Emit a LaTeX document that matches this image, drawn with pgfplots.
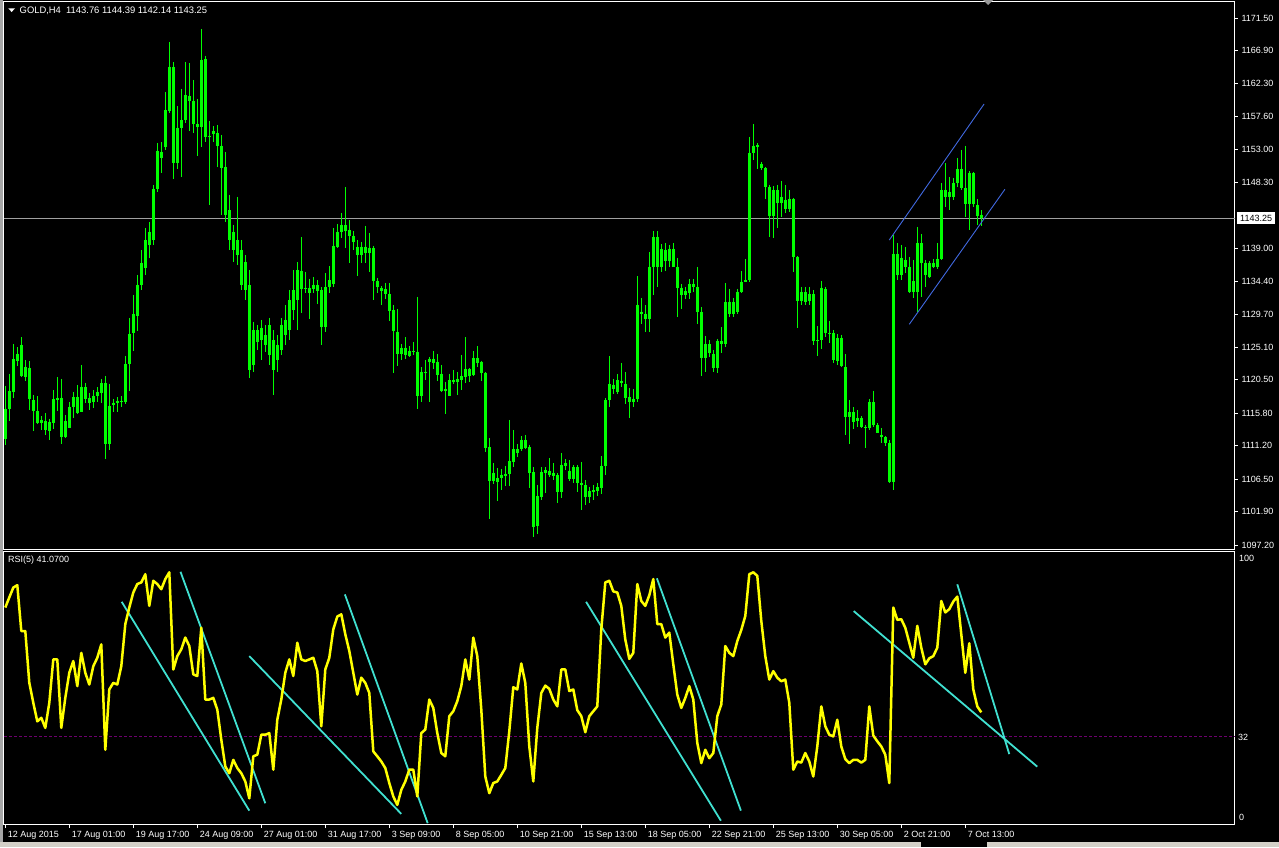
\documentclass[border=0pt]{standalone}
\usepackage{fontspec}
\setmainfont{Liberation Sans}
\usepackage{pgfplots}
\pgfplotsset{compat=1.18}
\usepackage{pgfplotstable}
\definecolor{candle}{RGB}{0,255,0}
\definecolor{rsicol}{RGB}{255,255,0}
\definecolor{trend}{RGB}{64,224,208}
\definecolor{chan}{RGB}{65,105,225}
\definecolor{bidcol}{RGB}{160,160,160}
\definecolor{lvl}{RGB}{110,0,110}
\definecolor{uicol}{RGB}{212,208,200}
\newcommand{\mtfont}{\fontsize{9}{10}\selectfont}
\newcommand{\titlefont}{\fontsize{9.4}{10}\selectfont}

\pgfplotstableread{
i lo hi bl bh
0 1111.31 1119.62 1112.15 1116.38
1 1114.69 1121.32 1116.38 1118.92
2 1117.93 1125.55 1118.78 1123.43
3 1122.44 1125.12 1123.15 1124.14
4 1120.89 1126.53 1121.03 1125.41
5 1120.33 1123.29 1120.89 1122.30
6 1116.24 1123.15 1117.79 1122.16
7 1113.28 1118.36 1116.10 1117.65
8 1114.27 1118.21 1114.41 1116.10
9 1113.42 1115.39 1114.41 1114.83
10 1112.72 1115.82 1113.42 1114.69
11 1112.01 1114.97 1113.28 1114.55
12 1113.56 1119.06 1114.41 1117.79
13 1116.10 1120.89 1117.65 1117.93
14 1111.45 1120.61 1112.43 1117.93
15 1112.29 1115.54 1112.43 1114.69
16 1113.70 1117.37 1113.70 1116.66
17 1115.11 1118.78 1116.66 1118.07
18 1115.68 1119.77 1115.82 1118.07
19 1115.96 1122.59 1115.96 1119.48
20 1117.23 1120.05 1117.79 1119.48
21 1116.24 1118.64 1117.23 1117.93
22 1116.52 1119.06 1117.37 1118.21
23 1117.37 1119.48 1118.21 1118.78
24 1117.23 1120.61 1118.64 1120.05
25 1109.33 1121.03 1111.45 1120.05
26 1110.60 1119.91 1111.45 1116.80
27 1115.96 1117.79 1116.95 1117.23
28 1115.96 1118.07 1117.23 1117.51
29 1116.66 1118.21 1117.37 1117.51
30 1117.09 1123.85 1117.37 1122.73
31 1118.92 1129.21 1122.73 1126.96
32 1124.56 1132.46 1127.10 1129.78
33 1127.38 1135.28 1129.49 1133.87
34 1133.16 1138.80 1133.87 1136.97
35 1135.28 1141.90 1136.26 1140.21
36 1137.67 1142.75 1139.51 1141.34
37 1139.51 1147.97 1140.21 1147.40
38 1146.98 1153.89 1147.40 1152.76
39 1149.66 1154.03 1151.77 1152.62
40 1152.90 1161.08 1153.32 1158.54
41 1158.12 1168.13 1158.40 1164.60
42 1148.81 1165.31 1151.07 1164.60
43 1150.22 1159.10 1151.07 1156.00
44 1149.09 1161.50 1156.00 1157.13
45 1156.71 1165.31 1157.13 1160.66
46 1155.58 1165.17 1159.81 1160.51
47 1155.30 1162.77 1156.57 1159.81
48 1152.05 1160.09 1156.14 1156.57
49 1153.32 1169.96 1156.14 1165.59
50 1154.03 1166.15 1154.73 1165.73
51 1145.15 1156.99 1154.73 1154.87
52 1154.03 1156.28 1155.16 1155.58
53 1150.50 1156.43 1153.46 1155.30
54 1143.74 1155.02 1150.36 1153.46
55 1142.75 1152.62 1143.74 1150.50
56 1138.80 1146.56 1140.21 1144.44
57 1137.11 1142.33 1138.80 1141.34
58 1136.69 1146.27 1138.10 1140.21
59 1133.16 1140.21 1133.87 1138.80
60 1131.75 1138.10 1133.16 1137.11
61 1120.75 1135.98 1121.88 1133.87
62 1121.60 1128.65 1122.59 1127.52
63 1124.70 1128.23 1125.83 1127.52
64 1123.29 1128.93 1126.11 1127.80
65 1124.42 1128.23 1125.41 1126.82
66 1122.59 1129.21 1124.00 1128.23
67 1118.36 1127.52 1121.88 1126.11
68 1121.60 1126.82 1123.29 1125.41
69 1124.00 1129.21 1124.70 1128.23
70 1125.41 1131.05 1126.82 1128.93
71 1126.11 1133.16 1127.52 1131.75
72 1128.93 1135.98 1130.34 1133.16
73 1127.52 1137.11 1131.75 1135.98
74 1129.92 1140.63 1133.30 1135.84
75 1132.74 1135.70 1133.30 1133.44
76 1129.07 1134.71 1132.74 1133.44
77 1132.74 1134.99 1133.30 1133.87
78 1131.19 1134.57 1133.02 1133.87
79 1125.41 1133.58 1127.94 1133.16
80 1127.24 1135.56 1127.94 1133.58
81 1132.74 1136.54 1133.58 1134.57
82 1133.58 1141.90 1134.01 1139.36
83 1139.08 1142.47 1139.22 1141.34
84 1140.49 1144.02 1141.34 1142.33
85 1139.08 1147.68 1141.48 1142.33
86 1136.97 1143.03 1140.77 1141.62
87 1138.80 1141.48 1139.93 1140.77
88 1135.13 1140.21 1138.10 1139.22
89 1136.97 1139.93 1138.10 1139.22
90 1136.97 1142.18 1138.38 1139.22
91 1135.70 1141.20 1138.38 1139.08
92 1131.75 1139.36 1134.43 1139.08
93 1132.74 1134.85 1133.58 1134.43
94 1131.05 1133.72 1133.02 1133.44
95 1131.89 1134.15 1132.60 1133.30
96 1128.79 1134.15 1130.20 1132.60
97 1121.46 1131.05 1127.38 1130.34
98 1122.44 1130.48 1124.14 1127.24
99 1123.29 1125.55 1124.14 1124.98
100 1123.43 1126.53 1124.00 1124.98
101 1123.71 1125.26 1123.85 1124.56
102 1124.00 1125.83 1124.42 1124.56
103 1116.38 1132.17 1118.21 1124.42
104 1117.37 1122.30 1118.21 1121.60
105 1120.47 1123.29 1121.46 1121.60
106 1117.37 1123.71 1123.01 1123.43
107 1122.02 1124.56 1122.87 1123.43
108 1120.33 1124.14 1121.18 1123.01
109 1118.78 1122.59 1118.92 1121.32
110 1115.68 1120.19 1118.92 1119.20
111 1118.21 1121.32 1118.21 1120.47
112 1119.91 1121.88 1120.19 1120.47
113 1118.36 1121.60 1120.19 1120.61
114 1119.06 1124.00 1120.47 1121.03
115 1120.05 1126.53 1120.89 1122.02
116 1120.19 1122.16 1121.03 1122.02
117 1121.03 1124.56 1121.18 1123.57
118 1122.30 1125.26 1122.87 1123.57
119 1120.33 1123.15 1121.46 1123.01
120 1110.32 1121.60 1110.88 1121.46
121 1100.87 1112.29 1106.23 1111.02
122 1105.81 1108.77 1106.23 1107.36
123 1103.41 1108.06 1106.09 1106.65
124 1104.96 1107.92 1106.65 1107.08
125 1105.52 1108.34 1106.93 1107.22
126 1105.52 1114.83 1107.22 1109.05
127 1108.20 1113.42 1108.91 1110.74
128 1109.61 1111.45 1110.18 1110.74
129 1110.46 1112.57 1110.74 1112.01
130 1110.74 1112.72 1110.88 1112.01
131 1105.24 1111.31 1107.36 1111.02
132 1098.33 1108.20 1099.74 1107.50
133 1098.76 1105.67 1099.88 1104.11
134 1103.55 1108.20 1103.97 1107.50
135 1104.54 1108.20 1107.36 1107.78
136 1106.79 1109.47 1107.08 1107.64
137 1106.37 1108.77 1106.93 1107.36
138 1103.13 1107.36 1104.68 1107.08
139 1103.83 1110.18 1104.68 1108.49
140 1107.78 1109.33 1108.34 1108.77
141 1106.23 1109.19 1106.51 1107.64
142 1105.95 1108.49 1106.51 1108.20
143 1104.68 1108.49 1105.95 1108.20
144 1102.14 1108.91 1105.67 1105.95
145 1102.85 1106.37 1103.97 1105.67
146 1103.13 1105.38 1103.97 1104.82
147 1103.55 1105.67 1104.68 1104.96
148 1104.11 1105.95 1104.82 1105.38
149 1104.40 1109.75 1105.24 1108.34
150 1107.08 1117.93 1108.34 1117.65
151 1116.66 1123.85 1117.65 1119.91
152 1118.50 1120.61 1119.20 1119.77
153 1118.50 1121.32 1118.78 1120.47
154 1119.48 1122.87 1120.05 1120.33
155 1117.09 1121.60 1117.93 1119.91
156 1115.11 1119.34 1117.37 1118.07
157 1116.66 1119.20 1117.37 1117.79
158 1117.37 1135.13 1117.79 1131.05
159 1128.37 1132.03 1129.78 1130.06
160 1127.24 1131.05 1129.07 1129.78
161 1127.24 1138.52 1129.07 1136.40
162 1132.46 1141.48 1136.40 1140.63
163 1133.58 1141.48 1136.40 1140.63
164 1135.70 1139.65 1136.40 1138.94
165 1135.84 1139.79 1137.25 1138.80
166 1136.40 1139.51 1137.25 1138.94
167 1136.40 1139.79 1136.40 1138.94
168 1129.35 1137.67 1133.44 1136.40
169 1130.48 1134.01 1132.46 1133.44
170 1131.89 1133.58 1132.46 1133.02
171 1131.89 1134.71 1132.74 1134.01
172 1132.88 1134.71 1133.58 1134.01
173 1128.37 1136.40 1130.06 1133.58
174 1121.03 1130.76 1123.57 1130.06
175 1121.60 1126.67 1123.57 1125.55
176 1123.71 1126.11 1124.28 1125.55
177 1121.60 1124.70 1122.16 1124.14
178 1121.46 1126.25 1122.16 1125.97
179 1124.28 1127.94 1125.55 1125.97
180 1125.12 1134.15 1125.55 1131.47
181 1129.35 1133.30 1129.78 1131.47
182 1129.35 1132.03 1129.78 1131.47
183 1129.78 1133.30 1130.06 1132.88
184 1132.74 1135.84 1132.88 1134.29
185 1134.29 1137.53 1134.29 1134.57
186 1134.29 1154.73 1134.57 1152.48
187 1151.49 1156.57 1152.48 1153.46
188 1150.22 1153.89 1153.32 1153.61
189 1150.08 1151.21 1150.36 1150.93
190 1145.99 1150.50 1147.68 1150.36
191 1140.63 1147.97 1143.59 1147.68
192 1140.49 1147.82 1143.59 1147.26
193 1141.90 1147.97 1145.43 1147.26
194 1143.45 1148.53 1145.43 1146.27
195 1144.02 1147.97 1144.58 1145.85
196 1144.16 1147.26 1144.58 1145.99
197 1135.70 1146.13 1137.81 1145.99
198 1127.80 1137.95 1131.61 1137.81
199 1131.05 1133.58 1131.61 1132.88
200 1131.05 1133.58 1131.47 1132.88
201 1131.05 1133.58 1131.61 1132.60
202 1125.41 1133.16 1125.97 1132.60
203 1123.85 1128.08 1125.97 1126.11
204 1124.84 1134.43 1126.11 1133.44
205 1126.53 1133.58 1127.10 1133.30
206 1125.69 1128.79 1126.96 1127.10
207 1122.87 1127.52 1123.29 1127.10
208 1122.59 1126.96 1123.15 1126.39
209 1122.30 1126.82 1122.44 1126.39
210 1112.72 1124.14 1115.25 1122.30
211 1111.45 1117.65 1115.25 1115.96
212 1113.56 1116.66 1114.55 1115.96
213 1113.84 1116.24 1114.69 1115.11
214 1113.70 1115.39 1113.84 1115.11
215 1110.88 1114.13 1113.70 1113.84
216 1113.42 1117.79 1113.70 1117.37
217 1113.84 1118.92 1114.13 1117.37
218 1113.00 1114.41 1113.00 1114.13
219 1111.59 1113.70 1112.43 1112.72
220 1111.16 1112.57 1111.59 1112.43
221 1105.95 1112.01 1106.09 1111.59
222 1104.96 1140.92 1106.09 1138.24
223 1134.57 1139.79 1135.28 1138.24
224 1134.57 1139.51 1135.28 1137.67
225 1135.56 1139.22 1136.40 1137.39
226 1132.74 1137.81 1132.88 1136.40
227 1132.03 1137.39 1132.88 1134.43
228 1130.06 1142.04 1132.88 1139.79
229 1132.17 1141.06 1136.97 1139.79
230 1133.58 1137.39 1135.28 1136.97
231 1134.85 1137.25 1134.99 1136.97
232 1136.26 1137.53 1136.40 1136.97
233 1136.12 1139.79 1136.40 1137.53
234 1137.39 1148.25 1137.53 1147.26
235 1144.86 1151.07 1146.27 1147.26
236 1144.44 1149.09 1146.27 1146.98
237 1145.85 1148.95 1146.27 1148.25
238 1147.68 1151.77 1148.25 1150.22
239 1147.26 1152.90 1147.54 1150.22
240 1143.45 1153.46 1145.29 1147.54
241 1141.62 1149.94 1145.29 1149.66
242 1144.86 1149.80 1145.29 1149.66
243 1142.33 1145.99 1143.59 1145.15
244 1142.14 1144.39 1143.25 1143.76
}\candles

\pgfplotstableread{
i r
0 79.3
1 83.0
2 86.6
3 87.5
4 70.7
5 70.7
6 51.7
7 44.4
8 37.6
9 38.9
10 35.2
11 44.4
12 60.3
13 60.3
14 35.2
15 46.2
16 55.4
17 59.7
18 50.5
19 62.7
20 55.4
21 51.1
22 57.8
23 60.9
24 65.8
25 27.2
26 49.3
27 51.7
28 51.1
29 57.8
30 73.2
31 79.3
32 84.8
33 87.9
34 88.5
35 91.5
36 79.9
37 89.1
38 87.9
39 86.0
40 89.7
41 92.2
42 56.6
43 61.5
44 64.0
45 68.3
46 65.2
47 54.8
48 54.2
49 71.9
50 45.6
51 45.6
52 46.2
53 41.9
54 30.9
55 21.1
56 18.6
57 23.5
58 20.5
59 18.6
60 15.6
61 9.4
62 24.8
63 25.4
64 32.7
65 32.7
66 33.3
67 19.9
68 38.2
69 45.6
70 55.4
71 60.3
72 54.2
73 66.4
74 60.3
75 59.7
76 60.3
77 60.9
78 56.0
79 35.8
80 56.6
81 60.9
82 71.3
83 76.0
84 76.8
85 69.5
86 63.4
87 55.4
88 47.4
89 53.6
90 51.7
91 48.0
92 26.6
93 24.8
94 22.9
95 20.5
96 15.0
97 10.1
98 7.0
99 12.5
100 15.6
101 19.9
102 19.9
103 10.1
104 33.3
105 34.6
106 45.6
107 42.5
108 33.3
109 26.0
110 24.8
111 39.5
112 41.3
113 45.0
114 50.5
115 60.3
116 52.9
117 68.3
118 61.5
119 41.9
120 17.4
121 11.3
122 15.0
123 15.6
124 18.0
125 20.5
126 34.0
127 50.1
128 49.3
129 58.8
130 51.7
131 28.4
132 15.6
133 35.2
134 48.0
135 50.7
136 49.5
137 45.6
138 43.1
139 56.6
140 56.6
141 48.7
142 49.3
143 41.7
144 39.5
145 33.6
146 39.5
147 41.3
148 43.1
149 71.3
150 88.5
151 89.1
152 85.2
153 84.8
154 79.9
155 67.6
156 60.5
157 62.7
158 87.9
159 81.7
160 79.9
161 83.8
162 89.7
163 73.2
164 73.2
165 68.3
166 70.1
167 58.5
168 47.4
169 42.5
170 46.2
171 50.5
172 45.6
173 29.7
174 22.3
175 27.2
176 24.1
177 26.0
178 39.5
179 43.8
180 65.2
181 62.7
182 61.5
183 67.0
184 71.1
185 76.2
186 91.5
187 92.2
188 90.9
189 74.4
190 61.5
191 52.9
192 56.0
193 53.6
194 52.3
195 52.9
196 44.4
197 19.9
198 22.9
199 22.5
200 26.0
201 22.9
202 17.4
203 28.4
204 43.1
205 35.8
206 32.7
207 32.1
208 38.2
209 28.4
210 23.8
211 22.3
212 23.5
213 23.5
214 22.5
215 23.5
216 43.1
217 32.4
218 30.3
219 28.4
220 25.4
221 15.0
222 79.3
223 74.8
224 75.0
225 71.9
226 66.4
227 60.9
228 72.6
229 64.6
230 58.5
231 60.7
232 61.5
233 64.6
234 81.7
235 77.5
236 78.7
237 81.5
238 83.3
239 69.5
240 55.4
241 66.2
242 49.3
243 43.1
244 40.9
}\rsidata

\begin{document}
\begin{tikzpicture}
\fill[black] (0pt,0pt) rectangle (1279pt,-847pt);
\fill[uicol] (0pt,-842pt) rectangle (1279pt,-847pt);
\fill[black] (921pt,-842pt) rectangle (987pt,-847pt);
\fill[gray!70] (0pt,0pt) rectangle (2.5pt,-842pt);

\begin{axis}[
  at={(4pt,-549pt)}, anchor=south west,
  width=1231pt, height=547pt, scale only axis,
  xmin=-0.325, xmax=307.425, ymin=1096.64, ymax=1173.76,
  axis line style={draw=white, line width=1pt},
  xtick=\empty,
  ytick={1097.2,1101.9,1106.5,1111.2,1115.8,1120.5,1125.1,1129.7,1134.4,1139.0,1148.3,1153.0,1157.6,1162.3,1166.9,1171.5},
  ytick pos=right, yticklabel pos=right,
  tick align=outside, major tick length=3pt,
  tick style={white, line width=1pt},
  yticklabel style={text=white, font=\mtfont, anchor=west,
    /pgf/number format/.cd, fixed, fixed zerofill, precision=2, 1000 sep={}, assume math mode=true},
]
\addplot[bidcol, line width=1pt] coordinates {(-0.325,1143.25) (307.425,1143.25)};
\addplot[draw=none, forget plot,
  error bars/.cd, y dir=minus, y explicit, error mark=none,
  error bar style={draw=candle, line width=1pt}]
  table[x=i, y=hi, y error minus expr={\thisrow{hi}-\thisrow{lo}}] {\candles};
\addplot[draw=none, forget plot,
  error bars/.cd, y dir=minus, y explicit, error mark=none,
  error bar style={draw=candle, line width=3pt}]
  table[x=i, y=bh, y error minus expr={\thisrow{bh}-\thisrow{bl}}] {\candles};
\addplot[chan, line width=0.9pt] coordinates {(221.0,1140.20) (244.7,1159.38)};
\addplot[chan, line width=0.9pt] coordinates {(226.0,1128.32) (249.9,1147.35)};
\coordinate (bidpt) at (axis cs:307.425,1143.25);
\end{axis}

\begin{axis}[
  at={(4pt,-824pt)}, anchor=south west,
  width=1231pt, height=273pt, scale only axis,
  xmin=-0.325, xmax=307.425, ymin=0, ymax=100,
  axis line style={draw=white, line width=1pt},
  ytick=\empty,
  xtick={0,16,...,240},
  xticklabels={12 Aug 2015, 17 Aug 01:00, 19 Aug 17:00, 24 Aug 09:00, 27 Aug 01:00, 31 Aug 17:00, 3 Sep 09:00, 8 Sep 05:00, 10 Sep 21:00, 15 Sep 13:00, 18 Sep 05:00, 22 Sep 21:00, 25 Sep 13:00, 30 Sep 05:00, 2 Oct 21:00, 7 Oct 13:00},
  xtick pos=left, xticklabel pos=left,
  tick align=outside, major tick length=4pt,
  tick style={white, line width=1pt},
  xticklabel style={text=white, font=\mtfont, anchor=north west, xshift=-1pt},
]
\addplot[lvl, line width=1pt, dash pattern=on 3pt off 2pt] coordinates {(-0.325,32) (307.425,32)};
\addplot[trend, line width=1.8pt] coordinates {(29.1,81.4) (61.0,4.9)};
\addplot[trend, line width=1.8pt] coordinates {(43.8,92.4) (65.0,7.6)};
\addplot[trend, line width=1.8pt] coordinates {(61.0,61.5) (99.0,3.7)};
\addplot[trend, line width=1.8pt] coordinates {(84.9,84.1) (105.6,0.3)};
\addplot[trend, line width=1.8pt] coordinates {(145.2,81.4) (178.9,1.2)};
\addplot[trend, line width=1.8pt] coordinates {(162.9,90.0) (183.9,4.9)};
\addplot[trend, line width=1.8pt] coordinates {(212.1,78.0) (258.0,21.0)};
\addplot[trend, line width=1.8pt] coordinates {(238.0,87.8) (251.0,25.6)};
\addplot[rsicol, line width=2.5pt, line join=round] table[x=i, y=r] {\rsidata};
\end{axis}

\fill[white] (8.3pt,-8.3pt) -- (15pt,-8.3pt) -- (11.65pt,-12pt) -- cycle;
\node[anchor=west, text=white, font=\titlefont, inner sep=0pt] at (19.5pt,-10.5pt) {GOLD,H4\ \ 1143.76 1144.39 1142.14 1143.25};
\fill[gray!80] (983pt,0pt) -- (993pt,0pt) -- (988pt,-5pt) -- cycle;
\node[anchor=west, text=white, font=\mtfont, inner sep=0pt] at (8pt,-560.5pt) {RSI(5) 41.0700};
\node[anchor=west, fill=white, text=black, font=\mtfont, inner xsep=3pt, inner ysep=1pt, minimum height=12pt] at ([xshift=2pt]bidpt) {1143.25};
\node[anchor=west, text=white, font=\mtfont, inner sep=0pt] at (1239pt,-558pt) {100};
\node[anchor=west, text=white, font=\mtfont, inner sep=0pt] at (1238pt,-737pt) {32};
\node[anchor=west, text=white, font=\mtfont, inner sep=0pt] at (1239pt,-817pt) {0};
\end{tikzpicture}
\end{document}
